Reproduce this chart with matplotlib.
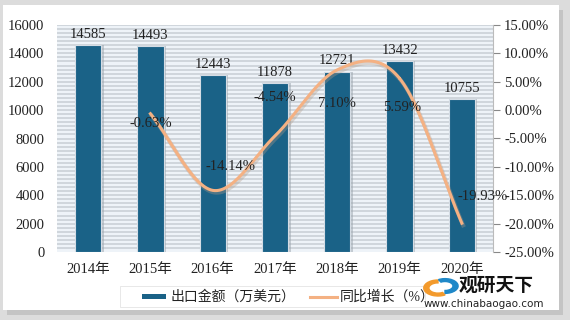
import matplotlib

matplotlib.use("Agg")
import matplotlib.pyplot as plt
import numpy as np
from matplotlib.patches import Rectangle, Wedge

plt.rcParams["font.family"] = ["Liberation Serif", "Noto Sans CJK SC"]

years = ["2014年", "2015年", "2016年", "2017年", "2018年", "2019年", "2020年"]
export_value = [14585, 14493, 12443, 11878, 12721, 13432, 10755]
growth_years = [1, 2, 3, 4, 5, 6]  # index into years, 2014 has no growth figure
growth_pct = [-0.63, -14.14, -4.54, 7.10, 5.59, -19.93]
# where each growth label sits relative to its point (points)
growth_label_offset = [(0, -7), (13, 17), (0, 28), (0, -24), (2, -21), (15, 19)]

BAR = "#1a6287"
LINE = "#f4b183"


def smooth(xs, ys, n=30):
    """Catmull-Rom curve through the points, like Excel's smoothed line."""
    p = np.column_stack([xs, ys]).astype(float)
    p = np.vstack([2 * p[0] - p[1], p, 2 * p[-1] - p[-2]])
    out = []
    for i in range(1, len(p) - 2):
        p0, p1, p2, p3 = p[i - 1], p[i], p[i + 1], p[i + 2]
        t = np.linspace(0, 1, n)[:, None]
        seg = 0.5 * (2 * p1 + (-p0 + p2) * t + (2 * p0 - 5 * p1 + 4 * p2 - p3) * t**2
                     + (-p0 + 3 * p1 - 3 * p2 + p3) * t**3)
        out.append(seg)
    c = np.vstack(out)
    return c[:, 0], c[:, 1]


fig = plt.figure(figsize=(5.7, 3.2), dpi=100)
fig.patch.set_facecolor("#dcdcdc")
# white card with a soft shadow
fig.add_artist(Rectangle((0.012, 0.015), 0.975, 0.955, transform=fig.transFigure,
                         facecolor="#c4c4c4", edgecolor="none", zorder=-3))
fig.add_artist(Rectangle((0.006, 0.03), 0.975, 0.955, transform=fig.transFigure,
                         facecolor="white", edgecolor="none", zorder=-2))

ax = fig.add_axes([57 / 570, 1 - 252 / 320, 436 / 570, 227 / 320])
ax.set_facecolor("#eef3f8")
x = np.arange(len(years))
ax.set_xlim(-0.5, len(years) - 0.5)
ax.set_ylim(0, 16000)
for yv in np.linspace(0, 16000, 57)[1:]:
    ax.axhline(yv, color="#cdd3da", lw=1.3, zorder=0)

ax.bar(x + 0.04, export_value, width=0.42, color="#9aa3ab", alpha=0.5, zorder=1)
bars = ax.bar(x, export_value, width=0.42, color=BAR, edgecolor="#d5dde5",
              linewidth=0.8, zorder=2)
for xi, v in zip(x, export_value):
    ax.annotate(f"{v}", (xi, v), xytext=(0, 3), textcoords="offset points",
                ha="center", va="bottom", fontsize=10.5, color="#222222")

ax.set_yticks(np.arange(0, 16001, 2000))
ax.set_xticks(x, years)
ax.tick_params(axis="both", length=0, labelsize=10.5, colors="#222222", pad=8)
ax.tick_params(axis="y", pad=9)
for s in ax.spines.values():
    s.set_visible(False)

ax2 = ax.twinx()
ax2.set_ylim(-25, 15)
ax2.set_yticks(np.arange(-25, 16, 5))
ax2.set_yticklabels([f"{v:.2f}%" for v in np.arange(-25, 16, 5)])
ax2.tick_params(axis="y", length=5, width=0.8, color="#888888", labelsize=10.5,
                colors="#222222", pad=3)
for s in ax2.spines.values():
    s.set_visible(False)
ax2.spines["right"].set_visible(True)
ax2.spines["right"].set_color("#bbbbbb")

sx, sy = smooth(growth_years, growth_pct)
ax2.plot(sx + 0.02, sy - 0.35, color="#b09a88", lw=3, alpha=0.35, zorder=3)
ax2.plot(sx, sy, color=LINE, lw=2.2, zorder=4)
for gx, gv, (dx, dy) in zip(growth_years, growth_pct, growth_label_offset):
    ax2.annotate(f"{gv:.2f}%", (gx, gv), xytext=(dx, dy), textcoords="offset points",
                 ha="center", va="center", fontsize=10.5, color="#222222", zorder=5)

# legend strip
fig.add_artist(Rectangle((120 / 570, 1 - 307 / 320), 305 / 570, 21 / 320,
                         transform=fig.transFigure, facecolor="white",
                         edgecolor="#e4e4e4", lw=0.6, zorder=3))
fig.add_artist(Rectangle((142 / 570, 1 - 299 / 320), 24 / 570, 5 / 320,
                         transform=fig.transFigure, facecolor=BAR, zorder=4))
fig.text(171 / 570, 1 - 296.5 / 320, "出口金额（万美元）", fontsize=10, va="center",
         color="#222222", zorder=4)
fig.add_artist(plt.Line2D([310 / 570, 337 / 570], [1 - 296.5 / 320] * 2,
                          transform=fig.transFigure, color=LINE, lw=2.2, zorder=4))
fig.text(340 / 570, 1 - 296.5 / 320, "同比增长（%）", fontsize=10, va="center",
         color="#222222", zorder=4)

# watermark logo
fig.add_artist(Wedge((438 / 570, 1 - 288 / 320), 0.025, 90, 300, width=0.009,
                     transform=fig.transFigure, color="#f39a2c", zorder=5))
fig.add_artist(Wedge((445 / 570, 1 - 286 / 320), 0.023, 270, 120, width=0.009,
                     transform=fig.transFigure, color="#1f88c8", zorder=5))
fig.text(459 / 570, 1 - 285 / 320, "观研天下", family="Noto Sans CJK SC",
         fontsize=13.5, fontweight="bold", va="center", color="#111111", zorder=5)
fig.text(424 / 570, 1 - 304 / 320, "www.chinabaogao.com", family="DejaVu Sans",
         fontsize=7.5, va="center", color="#222222", zorder=5)

fig.savefig("out.png", dpi=100)
